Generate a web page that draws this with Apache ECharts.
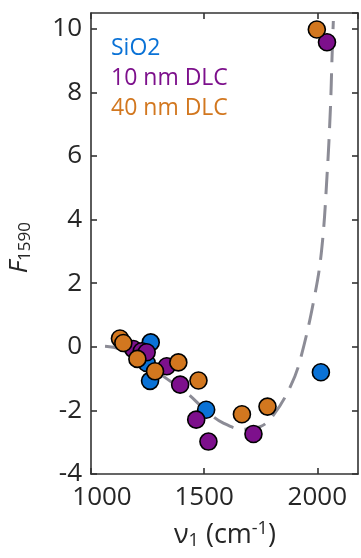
<!DOCTYPE html>
<html>
<head>
<meta charset="utf-8">
<script src="https://cdn.jsdelivr.net/npm/echarts@6/dist/echarts.min.js"></script>
<style>
html,body{margin:0;padding:0;background:#fff;}
#chart{width:361px;height:558px;}
</style>
</head>
<body>
<div id="chart"></div>
<script>
// Data: [v1 (cm^-1), F1590]
var sio2 = [[1264,0.14],[1246,-0.51],[1261,-1.07],[1509,-1.98],[2016,-0.80]];
var dlc10 = [[1187,-0.07],[1224,-0.14],[1246,-0.17],[1335,-0.61],[1394,-1.19],[1465,-2.29],[1519,-2.98],[1718,-2.74],[2043,9.58]];
var dlc40 = [[1128,0.26],[1143,0.12],[1205,-0.38],[1283,-0.77],[1386,-0.49],[1475,-1.06],[1667,-2.12],[1780,-1.88],[1998,9.98]];
var fitCurve = [[1062,0.02],[1128,-0.07],[1217,-0.40],[1320,-0.93],[1423,-1.45],[1512,-2.03],[1585,-2.40],[1674,-2.59],[1748,-2.51],[1807,-2.14],[1881,-1.25],[1925,-0.40],[1991,1.70],[2021,3.17],[2043,5.37],[2058,7.48],[2065,9.05],[2071,10.25]];
var seriesNames = ['SiO2','10 nm DLC','40 nm DLC'];
var xTicks = [1000,1500,2000];
var yTicks = [-4,-2,0,2,4,6,8,10];

var FONT = '"Open Sans", "DejaVu Sans", sans-serif';
var AX = '#333333';
var TXT = '#262626';
var colors = ['#0A72D6','#7D108C','#D2771F'];

var chart = echarts.init(document.getElementById('chart'), null, {renderer:'canvas'});

function axLine(){ return {show:true, onZero:false, lineStyle:{color:AX, width:1.6}}; }
function axTick(){ return {show:true, inside:true, length:6, lineStyle:{color:AX, width:1.6}}; }

var option = {
  animation:false,
  backgroundColor:'#ffffff',
  grid:{left:91, right:3, top:13, bottom:84, containLabel:false},
  legend:{
    orient:'vertical', left:104, top:32, itemGap:7,
    icon:'rect', itemWidth:0, itemHeight:0,
    textStyle:{fontFamily:FONT, fontSize:23, padding:[0,0,0,-4]},
    data:[
      {name:seriesNames[0], textStyle:{color:colors[0]}},
      {name:seriesNames[1], textStyle:{color:colors[1]}},
      {name:seriesNames[2], textStyle:{color:colors[2]}}
    ],
    selectedMode:false
  },
  xAxis:[{
    type:'value', min:1000, max:2180, interval:500, position:'bottom',
    axisLine:axLine(), axisTick:axTick(), splitLine:{show:false},
    axisLabel:{
      fontFamily:FONT, fontSize:26, color:TXT, margin:11, showMaxLabel:false,
      formatter:function(v){ return v===1000 ? '{a|1000}' : String(v); },
      rich:{a:{fontFamily:FONT, fontSize:26, color:TXT, padding:[0,0,0,22]}}
    }
  },{
    type:'value', min:1000, max:2180, interval:500, position:'top',
    axisLine:axLine(), axisTick:axTick(), splitLine:{show:false}, axisLabel:{show:false}
  }],
  yAxis:[{
    type:'value', min:-4, max:10.5, interval:2, position:'left',
    axisLine:axLine(), axisTick:axTick(), splitLine:{show:false},
    axisLabel:{fontFamily:FONT, fontSize:26, color:TXT, margin:9, showMaxLabel:false}
  },{
    type:'value', min:-4, max:10.5, interval:2, position:'right',
    axisLine:axLine(), axisTick:axTick(), splitLine:{show:false}, axisLabel:{show:false}
  }],
  graphic:[
    {
      type:'text', left:7, top:222, rotation:Math.PI/2,
      style:{
        text:'{f|F}{s|1590}',
        rich:{
          f:{fontFamily:FONT, fontSize:26, fontStyle:'italic', fill:TXT},
          s:{fontFamily:FONT, fontSize:17, fill:TXT, padding:[11,0,0,0]}
        }
      }
    },
    {
      type:'text', left:174, top:520,
      style:{
        text:'{t|ν}{s|1}{t| (cm}{p|-1}{t|)}',
        rich:{
          t:{fontFamily:FONT, fontSize:27, fill:TXT},
          s:{fontFamily:FONT, fontSize:18, fill:TXT, padding:[12,0,0,0]},
          p:{fontFamily:FONT, fontSize:18, fill:TXT, padding:[0,0,12,0]}
        }
      }
    }
  ],
  series:[
    {
      name:'fit', type:'line', data:fitCurve, smooth:0.4, showSymbol:false, symbol:'none',
      lineStyle:{color:'#8C8C96', width:3, type:[22,11]}, z:1, silent:true
    },
    {
      name:seriesNames[0], type:'scatter', data:sio2, symbolSize:17,
      itemStyle:{color:colors[0], borderColor:'#000', borderWidth:1.6, opacity:1}, z:3
    },
    {
      name:seriesNames[1], type:'scatter', data:dlc10, symbolSize:17,
      itemStyle:{color:colors[1], borderColor:'#000', borderWidth:1.6, opacity:1}, z:3
    },
    {
      name:seriesNames[2], type:'scatter', data:dlc40, symbolSize:17,
      itemStyle:{color:colors[2], borderColor:'#000', borderWidth:1.6, opacity:1}, z:3
    }
  ]
};
chart.setOption(option);
</script>
</body>
</html>
